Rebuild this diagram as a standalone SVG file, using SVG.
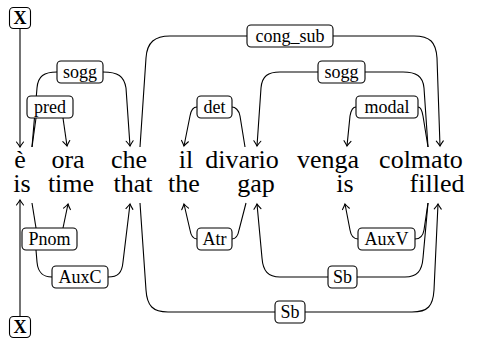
<svg xmlns="http://www.w3.org/2000/svg" width="487" height="342" viewBox="0 0 487 342" font-family="Liberation Serif, Times New Roman, DejaVu Serif, serif">
  <defs>
    <marker id="arr" markerUnits="userSpaceOnUse" markerWidth="12" markerHeight="12" viewBox="-6 -6 12 12" refX="0" refY="0" orient="auto">
      <path d="M-5,-3.5 Q-1.5,-0.8 0,0 Q-1.5,0.8 -5,3.5" fill="none" stroke="#000" stroke-width="1.1" stroke-linecap="round"/>
    </marker>
  </defs>
  <style>
    text { fill: #000; text-anchor: middle; }
    .word { font-size: 26px; }
    .lab { font-size: 18px; }
    .root { font-size: 18px; font-weight: bold; }
    .box { fill: #fff; stroke: #000; stroke-width: 1.1; }
    .edge { fill: none; stroke: #000; stroke-width: 1.1; }
    .arrow { marker-end: url(#arr); }
  </style>

  <!-- connectors -->
  <g id="edges">
    <!-- root arrows -->
    <path class="edge arrow" d="M20,28 L20,147"/>
    <path class="edge arrow" d="M20,316 L20,200"/>

    <!-- upper tree (Italian) -->
    <!-- sogg: è -> che -->
    <path class="edge" d="M32,147 L37,88 C38,76 44,72 57,72"/>
    <path class="edge arrow" d="M103,72 C118,72 124,76 126,88 L130,146"/>
    <!-- pred: è -> ora -->
    <path class="edge" d="M32,147 L36,118"/>
    <path class="edge arrow" d="M63,118 L67,146"/>
    <!-- cong_sub: che -> colmato -->
    <path class="edge" d="M140,147 L146,58 C147,42 155,36 170,36 L247,36"/>
    <path class="edge arrow" d="M333,36 L414,36 C430,36 436,42 437,58 L440,146"/>
    <!-- sogg: colmato -> divario -->
    <path class="edge" d="M428,147 L424,88 C423,76 416,72 403,72 L365,72"/>
    <path class="edge arrow" d="M318,72 L280,72 C268,72 262,76 261,88 L257,146"/>
    <!-- modal: colmato -> venga -->
    <path class="edge" d="M428,147 L423,116 C422,110 420,107 418,107"/>
    <path class="edge arrow" d="M356,107 C353,107 351,110 350,116 L347,146"/>
    <!-- det: divario -> il -->
    <path class="edge" d="M245,147 L240,116 C239,110 235,107 232,107"/>
    <path class="edge arrow" d="M197,107 C194,107 191,110 190,116 L184,146"/>

    <!-- lower tree (English) -->
    <!-- Pnom: is -> time -->
    <path class="edge" d="M32,203 L36,228"/>
    <path class="edge arrow" d="M63,228 L68,204"/>
    <!-- AuxC: is -> that -->
    <path class="edge" d="M36,250 L37,262 C38,273 43,277 52,277"/>
    <path class="edge arrow" d="M108,277 C118,277 122,273 123,262 L130,204"/>
    <!-- Sb: that -> filled -->
    <path class="edge" d="M140,203 L146,290 C147,306 153,312 168,312 L275,312"/>
    <path class="edge arrow" d="M305,312 L412,312 C428,312 433,306 434,290 L438,204"/>
    <!-- Sb: filled -> gap -->
    <path class="edge" d="M428,203 L423,258 C422,271 417,277 405,277 L357,277"/>
    <path class="edge arrow" d="M328,277 L280,277 C268,277 263,271 262,258 L257,204"/>
    <!-- AuxV: filled -> is -->
    <path class="edge" d="M428,203 L424,230 C423,236 420,239 415,239"/>
    <path class="edge arrow" d="M358,239 C353,239 351,236 350,230 L345,204"/>
    <!-- Atr: gap -> the -->
    <path class="edge" d="M246,203 L239,230 C238,236 236,239 232,239"/>
    <path class="edge arrow" d="M197,239 C193,239 191,236 190,230 L184,204"/>
  </g>

  <!-- root markers -->
  <g id="root-top"><rect class="box" x="9.5" y="7.5" width="21" height="21" rx="4"/><text class="root" x="20" y="24">X</text></g>
  <g id="root-bottom"><rect class="box" x="9.5" y="316.5" width="21" height="21" rx="4"/><text class="root" x="20" y="333">X</text></g>

  <!-- Italian words -->
  <g id="w-e"><text class="word" x="20" y="168">è</text></g>
  <g id="w-ora"><text class="word" x="68" y="168">ora</text></g>
  <g id="w-che"><text class="word" x="129" y="168">che</text></g>
  <g id="w-il"><text class="word" x="186" y="168">il</text></g>
  <g id="w-divario"><text class="word" x="242" y="168">divario</text></g>
  <g id="w-venga"><text class="word" x="328" y="168">venga</text></g>
  <g id="w-colmato"><text class="word" x="421" y="168">colmato</text></g>

  <!-- English words -->
  <g id="w-is1"><text class="word" x="22" y="192">is</text></g>
  <g id="w-time"><text class="word" x="71" y="192">time</text></g>
  <g id="w-that"><text class="word" x="133" y="192">that</text></g>
  <g id="w-the"><text class="word" x="184" y="192">the</text></g>
  <g id="w-gap"><text class="word" x="256" y="192">gap</text></g>
  <g id="w-is2"><text class="word" x="345" y="192">is</text></g>
  <g id="w-filled"><text class="word" x="437" y="192">filled</text></g>

  <!-- edge labels -->
  <g id="l-sogg1"><rect class="box" x="57" y="61" width="46" height="22" rx="4"/><text class="lab" x="80" y="78">sogg</text></g>
  <g id="l-pred"><rect class="box" x="27" y="96" width="46" height="22" rx="4"/><text class="lab" x="50" y="113">pred</text></g>
  <g id="l-cong_sub"><rect class="box" x="247" y="25" width="86" height="22" rx="4"/><text class="lab" x="290" y="42">cong_sub</text></g>
  <g id="l-sogg2"><rect class="box" x="318" y="61" width="47" height="22" rx="4"/><text class="lab" x="341.5" y="78">sogg</text></g>
  <g id="l-modal"><rect class="box" x="356" y="96" width="62" height="22" rx="4"/><text class="lab" x="387" y="113">modal</text></g>
  <g id="l-det"><rect class="box" x="197" y="96" width="35" height="22" rx="4"/><text class="lab" x="214.5" y="113">det</text></g>
  <g id="l-Pnom"><rect class="box" x="22" y="228" width="55" height="22" rx="4"/><text class="lab" x="49.5" y="245">Pnom</text></g>
  <g id="l-AuxC"><rect class="box" x="52" y="266" width="56" height="22" rx="4"/><text class="lab" x="80" y="283">AuxC</text></g>
  <g id="l-Atr"><rect class="box" x="197" y="228" width="35" height="22" rx="4"/><text class="lab" x="214.5" y="245">Atr</text></g>
  <g id="l-AuxV"><rect class="box" x="358" y="228" width="57" height="22" rx="4"/><text class="lab" x="386.5" y="245">AuxV</text></g>
  <g id="l-Sb1"><rect class="box" x="328" y="266" width="29" height="22" rx="4"/><text class="lab" x="342.5" y="283">Sb</text></g>
  <g id="l-Sb2"><rect class="box" x="275" y="301" width="30" height="22" rx="4"/><text class="lab" x="290" y="318">Sb</text></g>
</svg>
